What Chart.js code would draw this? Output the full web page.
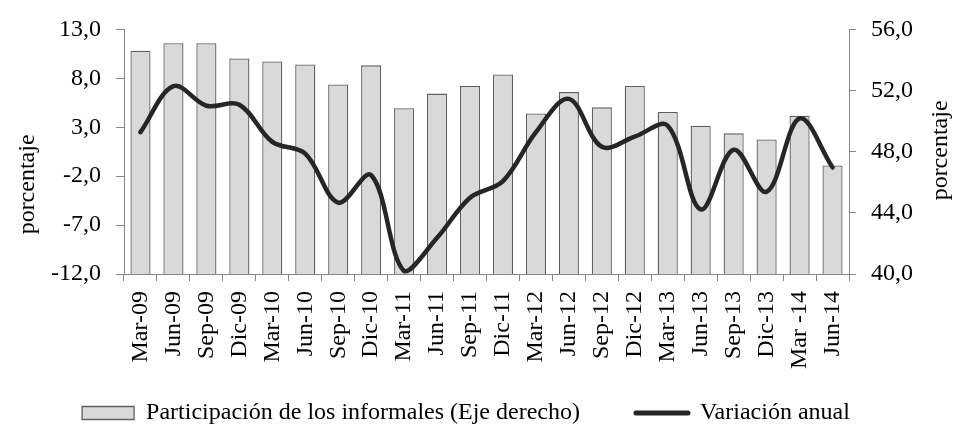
<!DOCTYPE html>
<html>
<head>
<meta charset="utf-8">
<script src="https://cdn.jsdelivr.net/npm/chart.js@4"></script>
<style>
  html, body { margin: 0; padding: 0; background: #fff; }
  #wrap { width: 958px; height: 425px; }
</style>
</head>
<body>
<div id="wrap"><canvas id="chart"></canvas></div>
<script>
const labels = ["Mar-09", "Jun-09", "Sep-09", "Dic-09", "Mar-10", "Jun-10", "Sep-10", "Dic-10",
  "Mar-11", "Jun-11", "Sep-11", "Dic-11", "Mar-12", "Jun-12", "Sep-12", "Dic-12",
  "Mar-13", "Jun-13", "Sep-13", "Dic-13", "Mar -14", "Jun-14"];

// participación de los informales (eje derecho)
const informales = [54.6, 55.1, 55.1, 54.1, 53.9, 53.7, 52.4, 53.65, 50.85, 51.8, 52.3, 53.05,
  50.5, 51.9, 50.9, 52.3, 50.6, 49.7, 49.2, 48.8, 50.35, 47.1];

// variación anual (eje izquierdo)
const variacion = [2.5, 7.2, 5.2, 5.3, 1.5, 0.3, -4.7, -1.9, -11.7, -8.3, -4.2, -2.5,
  2.5, 5.9, 1.0, 2.05, 3.15, -5.4, 0.7, -3.6, 3.9, -1.1];

const leftTicks = [-12, -7, -2, 3, 8, 13];
const rightTicks = [40, 44, 48, 52, 56];

const axisGray = "#868686";
const fmt = v => v.toFixed(1).replace(".", ",");

Chart.defaults.font.family = "'Liberation Serif', 'Times New Roman', serif";
Chart.defaults.font.size = 24;
Chart.defaults.color = "#000";

// axis titles read bottom-to-top on both sides
const axisTitles = {
  id: "axisTitles",
  afterDraw(chart) {
    const { ctx, chartArea } = chart;
    ctx.save();
    ctx.fillStyle = "#000";
    ctx.font = "24px 'Liberation Serif', serif";
    ctx.textAlign = "center";
    ctx.textBaseline = "middle";
    [[chartArea.left - 96, chartArea.top + 155], [chartArea.right + 92, chartArea.top + 121]].forEach(([x, y]) => {
      ctx.save();
      ctx.translate(x, y);
      ctx.rotate(-Math.PI / 2);
      ctx.fillText("porcentaje", 0, 0);
      ctx.restore();
    });
    ctx.restore();
  }
};

// legend in the original sits a bit left of centre and close to the bottom edge
const legendShift = {
  id: "legendShift",
  afterLayout(chart) {
    const lg = chart.legend;
    lg.left -= 13;
    lg.right -= 13;
    lg.top = 345;
    lg.bottom = 425;
  }
};

new Chart(document.getElementById("chart"), {
  type: "bar",
  data: {
    labels: labels,
    datasets: [
      {
        type: "bar",
        label: "Participación de los informales (Eje derecho)",
        data: informales,
        yAxisID: "y1",
        backgroundColor: "#d9d9d9",
        borderColor: "#5f5f5f",
        borderWidth: 1.3,
        categoryPercentage: 1,
        barPercentage: 0.61,
        order: 2
      },
      {
        type: "line",
        label: "Variación anual",
        data: variacion,
        yAxisID: "y",
        borderColor: "#262626",
        backgroundColor: "#262626",
        borderWidth: 4.5,
        pointRadius: 0,
        tension: 0.35,
        borderCapStyle: "round",
        order: 1
      }
    ]
  },
  plugins: [axisTitles, legendShift],
  options: {
    responsive: true,
    maintainAspectRatio: false,
    animation: false,
    layout: { padding: { top: 23, left: 0, right: 0, bottom: 0 } },
    plugins: {
      tooltip: { enabled: false },
      legend: {
        position: "bottom",
        maxHeight: 53,
        labels: {
          usePointStyle: true,
          pointStyleWidth: 52,
          boxHeight: 13,
          padding: 56,
          color: "#000",
          generateLabels: chart => chart.data.datasets.map((ds, i) => ({
            text: ds.label,
            datasetIndex: i,
            fillStyle: ds.backgroundColor,
            strokeStyle: ds.borderColor,
            lineWidth: ds.type === "line" ? 5 : 1.3,
            lineCap: "round",
            pointStyle: ds.type === "line" ? "line" : "rect",
            fontColor: "#000"
          }))
        }
      }
    },
    scales: {
      x: {
        grid: { offset: true, drawOnChartArea: false, color: axisGray, tickLength: 7 },
        border: { color: axisGray, width: 1 },
        ticks: { minRotation: 90, maxRotation: 90, autoSkip: false, padding: 10, color: "#000" },
        afterFit: s => { s.height = 98; }
      },
      y: {
        position: "left",
        min: -12,
        max: 13,
        afterBuildTicks: s => { s.ticks = leftTicks.map(v => ({ value: v })); },
        afterFit: s => { s.width = 124; },
        grid: { drawOnChartArea: false, color: axisGray, tickLength: 8 },
        border: { color: axisGray, width: 1 },
        ticks: { padding: 15, color: "#000", callback: v => fmt(v) }
      },
      y1: {
        position: "right",
        min: 40,
        max: 56,
        afterBuildTicks: s => { s.ticks = rightTicks.map(v => ({ value: v })); },
        afterFit: s => { s.width = 109; },
        grid: { drawOnChartArea: false, color: axisGray, tickLength: 7 },
        border: { color: axisGray, width: 1 },
        ticks: { padding: 15, color: "#000", callback: v => fmt(v) }
      }
    }
  }
});
</script>
</body>
</html>
